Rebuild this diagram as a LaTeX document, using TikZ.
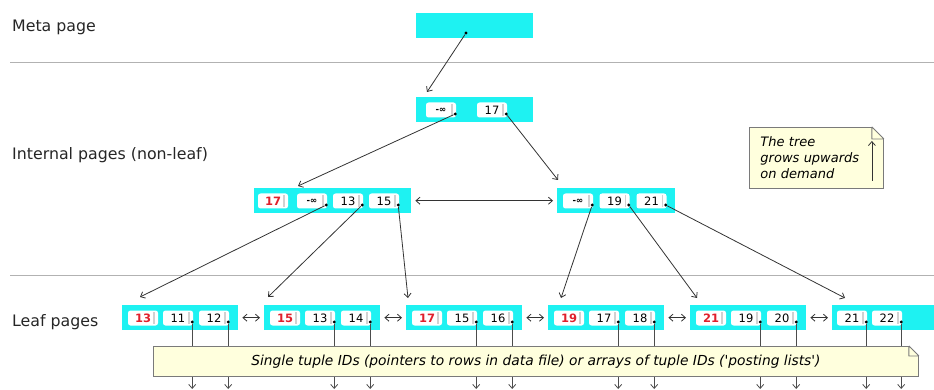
\documentclass[tikz,border=0pt]{standalone}
\usepackage{fontspec}
\setmainfont{DejaVu Sans}
\usepackage{tikz}
\usetikzlibrary{shapes,arrows,arrows.meta,positioning,calc}
\definecolor{pagecyan}{HTML}{1EF2F2}
\definecolor{notebg}{HTML}{FFFFDD}
\definecolor{notefg}{HTML}{7A7A7A}
\definecolor{keyred}{HTML}{E0202C}

\begin{document}
\begin{tikzpicture}[x=1pt, y=-1pt, >={Straight Barb[length=4pt,width=7pt]},
    page/.style={rectangle, fill=pagecyan, anchor=north west, minimum height=25pt, inner sep=0pt},
    key/.style={rectangle, fill=white, rounded corners=2.5pt, minimum width=30pt, minimum height=15pt, inner sep=0pt,
        font=\fontsize{11.5}{11.5}\selectfont,
        path picture={\draw[black!18, line width=1.6pt] ([xshift=-4pt,yshift=-1.5pt]path picture bounding box.north east) -- ([xshift=-4pt,yshift=1.5pt]path picture bounding box.south east);}},
    hikey/.style={key, text=keyred, font=\fontsize{11.5}{11.5}\selectfont\bfseries},
    infkey/.style={key, font=\fontsize{8.5}{8.5}\selectfont\bfseries},
    ptr/.style={circle, fill=black, inner sep=0pt, minimum size=3.4pt},
    link/.style={->, line width=0.8pt, black!80},
    sib/.style={<->, line width=0.8pt, black!80},
    tid/.style={->, line width=0.8pt, black!70},
    level/.style={anchor=west, inner sep=0pt, font=\fontsize{15.8}{15.8}\selectfont, text=black!85},
    sep/.style={line width=0.9pt, black!30},
    note/.style={rectangle, fill=notebg, draw=notefg, line width=0.9pt, font=\fontsize{13}{16}\selectfont\itshape}
]
\useasboundingbox (0,0) rectangle (934,390);

% levels of the tree
\node[level] (lmeta) at (12,27) {Meta page};
\node[level] (lint) at (12,155) {Internal pages (non-leaf)};
\node[level] (lleaf) at (12,322) {Leaf pages};
\draw[sep] (10,62) -- (934,62);
\draw[sep] (10,275) -- (934,275);

% meta page and root
\node[page, minimum width=117pt] (meta) at (416,13) {};
\node[ptr] (meta-p) at (466,33) {};

\node[page, minimum width=117pt] (root) at (416,97) {};
\node[infkey] (root-k1) at (441,110) {-∞};
\node[key] (root-k2) at (492,110) {17};
\node[ptr] (root-p1) at ([xshift=-1pt,yshift=-4pt]root-k1.east) {};
\node[ptr] (root-p2) at ([xshift=-1pt,yshift=-4pt]root-k2.east) {};

% internal pages
\node[page, minimum width=157pt] (inl) at (254,188) {};
\node[hikey] (inl-h) at (273,201) {17};
\node[infkey] (inl-k1) at (312,201) {-∞};
\node[key] (inl-k2) at (348,201) {13};
\node[key] (inl-k3) at (384,201) {15};
\node[ptr] (inl-p1) at ([xshift=-1pt,yshift=-4pt]inl-k1.east) {};
\node[ptr] (inl-p2) at ([xshift=-1pt,yshift=-4pt]inl-k2.east) {};
\node[ptr] (inl-p3) at ([xshift=-1pt,yshift=-4pt]inl-k3.east) {};

\node[page, minimum width=118pt] (inr) at (557,188) {};
\node[infkey] (inr-k1) at (578,201) {-∞};
\node[key] (inr-k2) at (614.5,201) {19};
\node[key] (inr-k3) at (651.5,201) {21};
\node[ptr] (inr-p1) at ([xshift=-1pt,yshift=-4pt]inr-k1.east) {};
\node[ptr] (inr-p2) at ([xshift=-1pt,yshift=-4pt]inr-k2.east) {};
\node[ptr] (inr-p3) at ([xshift=-1pt,yshift=-4pt]inr-k3.east) {};

\draw[sib] ([xshift=4pt]inl.east) -- ([xshift=-4pt]inr.west);

% leaf pages
\coordinate (bot) at (0,389);
\foreach \i/\x/\h/\a/\b in {1/122/13/11/12, 2/264/15/13/14, 3/406/17/15/16, 4/548/19/17/18, 5/690/21/19/20} {
    \node[page, minimum width=116pt] (leaf\i) at (\x,305) {};
    \node[hikey] (leaf\i-h) at (\x+21,318) {\h};
    \node[key] (leaf\i-a) at (\x+56,318) {\a};
    \node[key] (leaf\i-b) at (\x+92,318) {\b};
    \node[ptr] (leaf\i-pa) at ([xshift=-1pt,yshift=-4pt]leaf\i-a.east) {};
    \node[ptr] (leaf\i-pb) at ([xshift=-1pt,yshift=-4pt]leaf\i-b.east) {};
    \draw[tid] (leaf\i-pa) -- (leaf\i-pa |- bot);
    \draw[tid] (leaf\i-pb) -- (leaf\i-pb |- bot);
}
\node[page, minimum width=110pt] (leaf6) at (832,305) {};
\node[key] (leaf6-a) at (852,318) {21};
\node[key] (leaf6-b) at (887,318) {22};
\node[ptr] (leaf6-pa) at ([xshift=-1pt,yshift=-4pt]leaf6-a.east) {};
\node[ptr] (leaf6-pb) at ([xshift=-1pt,yshift=-4pt]leaf6-b.east) {};
\draw[tid] (leaf6-pa) -- (leaf6-pa |- bot);
\draw[tid] (leaf6-pb) -- (leaf6-pb |- bot);

\foreach \i/\j in {1/2, 2/3, 3/4, 4/5, 5/6}
    \draw[sib] ([xshift=4pt]leaf\i.east) -- ([xshift=-4pt]leaf\j.west);

% downlinks
\draw[link] (meta-p) -- ([xshift=11pt,yshift=5pt]root.north west);
\draw[link] (root-p1) -- ([xshift=44pt,yshift=2pt]inl.north west);
\draw[link] (root-p2) -- ([xshift=1pt,yshift=8pt]inr.north west);
\draw[link] (inl-p1) -- ([xshift=18pt,yshift=8pt]leaf1.north west);
\draw[link] (inl-p2) -- ([xshift=4pt,yshift=8pt]leaf2.north west);
\draw[link] (inl-p3) -- ([xshift=2pt,yshift=7pt]leaf3.north west);
\draw[link] (inr-p1) -- ([xshift=13pt,yshift=7pt]leaf4.north west);
\draw[link] (inr-p2) -- ([xshift=7pt,yshift=7pt]leaf5.north west);
\draw[link] (inr-p3) -- ([xshift=13pt,yshift=7pt]leaf6.north west);

% notes
\node[note, anchor=north west, minimum width=765pt, minimum height=30pt, inner sep=0pt, font=\fontsize{13.8}{16}\selectfont\itshape] (tids) at (153,346)
    {Single tuple IDs (pointers to rows in data file) or arrays of tuple IDs (\textquotesingle posting lists\textquotesingle)};
\fill[white] ([xshift=-11pt,yshift=1pt]tids.north east) -- ([xshift=1pt,yshift=1pt]tids.north east) -- ([xshift=1pt,yshift=-11pt]tids.north east) -- cycle;
\draw[notefg, line width=0.9pt, line join=round] ([xshift=-10pt]tids.north east) -- ([yshift=-10pt]tids.north east)
    ([xshift=-10pt]tids.north east) -- ([xshift=-10pt,yshift=-10pt]tids.north east) -- ([yshift=-10pt]tids.north east);

\node[note, anchor=north west, text width=112pt, minimum height=61pt, inner xsep=11pt, inner ysep=0pt, align=left] (grow) at (749,127)
    {The tree\\grows upwards\\on demand};
\fill[white] ([xshift=-13pt,yshift=1pt]grow.north east) -- ([xshift=1pt,yshift=1pt]grow.north east) -- ([xshift=1pt,yshift=-13pt]grow.north east) -- cycle;
\draw[notefg, line width=0.9pt, line join=round] ([xshift=-12pt]grow.north east) -- ([yshift=-12pt]grow.north east)
    ([xshift=-12pt]grow.north east) -- ([xshift=-12pt,yshift=-12pt]grow.north east) -- ([yshift=-12pt]grow.north east);
\coordinate (grow-a) at ([xshift=-12pt,yshift=8pt]grow.south east);
\coordinate (grow-b) at ([xshift=-12pt,yshift=-14pt]grow.north east);
\draw[link] (grow-a) -- (grow-b);
\end{tikzpicture}
\end{document}
